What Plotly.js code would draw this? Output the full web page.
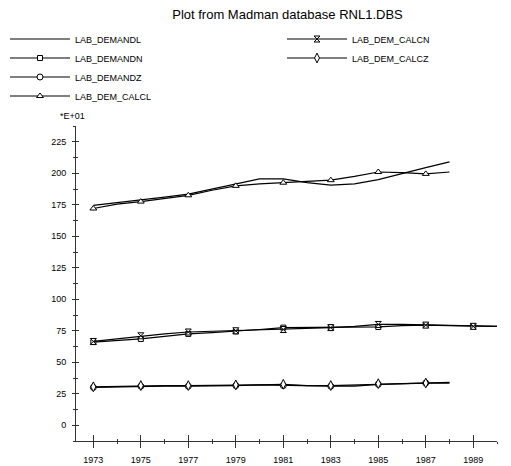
<!DOCTYPE html>
<html><head><meta charset="utf-8">
<script src="https://cdn.plot.ly/plotly-3.0.1.min.js"></script>
<style>html,body{margin:0;padding:0;background:#fff}#chart{width:511px;height:466px}</style>
</head><body><div id="chart"></div>
<script>
// Values are in units of *E+01
const yearsLZ = [1973,1974,1975,1976,1977,1978,1979,1980,1981,1982,1983,1984,1985,1986,1987,1988];
const yearsN  = [1973,1974,1975,1976,1977,1978,1979,1980,1981,1982,1983,1984,1985,1986,1987,1988,1989,1990];

const labDemandL  = [174.5,176.5,178.5,181,183.5,187.5,191.5,195.5,195.5,192.5,190.5,191.5,195,200,204.5,209];
const labDemCalcL = [172,175.5,177.5,180,182.5,186.5,190,191.5,192.5,193,194.5,197.5,201,200.5,199.5,201];
const labDemandN  = [66,67,68.5,70.5,72.5,73.5,74.5,76,77.5,77.5,77.5,77.5,78,79,79.5,79,78.5,78.5];
const labDemCalcN = [66.5,68.5,71,72.5,74,74.5,75,75.5,76,77,77.5,78.5,80,80,79.5,79,78.5,78.5];
const labDemandZ  = [30,30.5,31,31,31,31,31.5,32,31.5,31,31,31,32.5,33,33.5,34];
const labDemCalcZ = [30.5,31,31.5,31.5,31.5,31.5,32,32,32.5,31.5,31.5,32,33,33,33.5,33.5];

const seriesNames = ['LAB_DEMANDL','LAB_DEMANDN','LAB_DEMANDZ','LAB_DEM_CALCL','LAB_DEM_CALCN','LAB_DEM_CALCZ'];
const titleText = 'Plot from Madman database RNL1.DBS';
const scaleText = '*E+01';

const FONT = '"Liberation Sans", Arial, Helvetica, sans-serif';
const AX = '#333333';

function mk(years, symbol, size) {
  return {
    symbol: symbol, size: size,
    color: years.map(y => (y % 2) ? '#ffffff' : 'rgba(0,0,0,0)'),
    line: {width: 1, color: years.map(y => (y % 2) ? '#000000' : 'rgba(0,0,0,0)')}
  };
}
const LINE = {color: '#000000', width: 1.2};

const traces = [
  {x: yearsLZ, y: labDemandL, name: seriesNames[0], mode: 'lines', line: LINE, legend: 'legend'},
  {x: yearsN, y: labDemandN, name: seriesNames[1], mode: 'lines+markers', line: LINE, marker: mk(yearsN, 'square', 5), legend: 'legend'},
  {x: yearsLZ, y: labDemandZ, name: seriesNames[2], mode: 'lines+markers', line: LINE, marker: mk(yearsLZ, 'circle', 6), legend: 'legend'},
  {x: yearsLZ, y: labDemCalcL, name: seriesNames[3], mode: 'lines+markers', line: LINE, marker: mk(yearsLZ, 'triangle-up', 6), legend: 'legend'},
  {x: yearsN, y: labDemCalcN, name: seriesNames[4], mode: 'lines+markers', line: LINE, marker: mk(yearsN, 'hourglass', 6), legend: 'legend2'},
  {x: yearsLZ, y: labDemCalcZ, name: seriesNames[5], mode: 'lines+markers', line: LINE, marker: mk(yearsLZ, 'diamond-tall', 7), legend: 'legend2'},
  {x: [], y: [], xaxis: 'x2', yaxis: 'y2', showlegend: false, mode: 'lines', hoverinfo: 'skip'}
];

const xr = [1972.27, 1990];
const yr = [-12.5, 237.5];
const legendBase = {
  xref: 'container', yref: 'container', xanchor: 'left', yanchor: 'top',
  bgcolor: 'rgba(0,0,0,0)', borderwidth: 0, font: {family: FONT, size: 9, color: '#000'},
  itemwidth: 60, tracegroupgap: 0, orientation: 'v', itemclick: false
};

const layout = {
  width: 511, height: 466,
  margin: {l: 76, r: 14, t: 126, b: 25, pad: 0, autoexpand: false},
  paper_bgcolor: '#ffffff', plot_bgcolor: '#ffffff',
  font: {family: FONT, size: 9, color: '#000'},
  showlegend: true,
  title: {text: titleText, font: {family: FONT, size: 13, color: '#000'},
          xref: 'container', x: 0.5626, xanchor: 'center', yref: 'container', y: 0.968, yanchor: 'middle'},
  xaxis: {range: xr, tickmode: 'linear', tick0: 1973, dtick: 2, ticks: 'outside', ticklen: 6, tickwidth: 1, tickcolor: AX,
          showline: true, linecolor: AX, linewidth: 1, showgrid: false, zeroline: false, tickangle: 0,
          minor: {tick0: 1973, dtick: 1, ticks: 'outside', ticklen: 2, tickwidth: 1, tickcolor: AX, showgrid: false},
          tickfont: {family: FONT, size: 9, color: '#000'}, ticklabelstandoff: 4},
  xaxis2: {overlaying: 'x', anchor: 'y', side: 'bottom', range: xr, tickmode: 'linear', tick0: 1973, dtick: 2,
           ticks: 'inside', ticklen: 6, tickwidth: 1, tickcolor: AX, showticklabels: false, showline: false,
           showgrid: false, zeroline: false,
           minor: {tick0: 1973, dtick: 1, ticks: 'inside', ticklen: 2, tickwidth: 1, tickcolor: AX, showgrid: false}},
  yaxis: {range: yr, tickmode: 'linear', tick0: 0, dtick: 25, ticks: 'outside', ticklen: 3, tickwidth: 1, tickcolor: AX,
          showline: true, linecolor: AX, linewidth: 1, showgrid: false, zeroline: false,
          minor: {tick0: 0, dtick: 12.5, ticks: 'outside', ticklen: 2, tickwidth: 1, tickcolor: AX, showgrid: false},
          tickfont: {family: FONT, size: 9, color: '#000'}, ticklabelstandoff: 4},
  yaxis2: {overlaying: 'y', anchor: 'x', side: 'left', range: yr, tickmode: 'linear', tick0: 0, dtick: 25,
           ticks: 'inside', ticklen: 3, tickwidth: 1, tickcolor: AX, showticklabels: false, showline: false,
           showgrid: false, zeroline: false,
           minor: {tick0: 0, dtick: 12.5, ticks: 'inside', ticklen: 2, tickwidth: 1, tickcolor: AX, showgrid: false}},
  legend: Object.assign({}, legendBase, {x: 5 / 511, y: 1 - 24.5 / 466}),
  legend2: Object.assign({}, legendBase, {x: 282 / 511, y: 1 - 24.5 / 466}),
  annotations: [
    {text: scaleText, xref: 'paper', yref: 'paper', x: 0, y: 1, xanchor: 'center', yanchor: 'middle',
     xshift: -4, yshift: 10, showarrow: false, font: {family: FONT, size: 9, color: '#000'}}
  ]
};

Plotly.newPlot('chart', traces, layout, {staticPlot: true, displayModeBar: false});
</script>
</body></html>
